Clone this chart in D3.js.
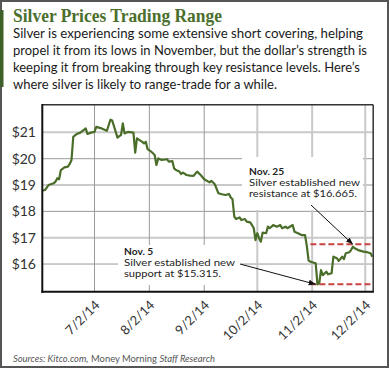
<!DOCTYPE html>
<html><head><meta charset="utf-8">
<script src="https://cdn.jsdelivr.net/npm/d3@7"></script>
<style>html,body{margin:0;padding:0;background:#fff;}svg{display:block;}</style>
</head><body>
<svg id="chart" width="390" height="369"></svg>
<script>
// ---- data ----
const dates = [
"2014-06-02","2014-06-04","2014-06-06","2014-06-09","2014-06-10","2014-06-11","2014-06-12","2014-06-13","2014-06-15","2014-06-17",
"2014-06-18","2014-06-19","2014-06-20","2014-06-22","2014-06-24","2014-06-26","2014-06-27","2014-06-28","2014-06-30",
"2014-07-02","2014-07-03","2014-07-06","2014-07-09","2014-07-11","2014-07-12","2014-07-15","2014-07-17","2014-07-18","2014-07-19",
"2014-07-21","2014-07-24","2014-07-25","2014-07-26","2014-07-29","2014-07-30","2014-07-31",
"2014-08-01","2014-08-03","2014-08-05","2014-08-06","2014-08-07","2014-08-09","2014-08-12","2014-08-13","2014-08-15","2014-08-16",
"2014-08-17","2014-08-19","2014-08-20","2014-08-21","2014-08-23","2014-08-25","2014-08-27","2014-08-29","2014-08-31",
"2014-09-02","2014-09-05","2014-09-06","2014-09-08","2014-09-10","2014-09-12","2014-09-14","2014-09-16","2014-09-17","2014-09-18",
"2014-09-19","2014-09-20","2014-09-22","2014-09-23","2014-09-25","2014-09-26","2014-09-28","2014-09-29","2014-09-30",
"2014-10-01","2014-10-02","2014-10-03","2014-10-04","2014-10-05","2014-10-07","2014-10-08","2014-10-09","2014-10-11","2014-10-13",
"2014-10-15","2014-10-16","2014-10-18","2014-10-19","2014-10-22","2014-10-23","2014-10-25","2014-10-27","2014-10-29","2014-10-30","2014-10-31",
"2014-11-01","2014-11-02","2014-11-04","2014-11-05","2014-11-06","2014-11-07","2014-11-08","2014-11-10","2014-11-11","2014-11-13",
"2014-11-14","2014-11-16","2014-11-17","2014-11-19","2014-11-20","2014-11-21","2014-11-23","2014-11-24","2014-11-25","2014-11-26","2014-11-28",
"2014-12-01","2014-12-03","2014-12-05","2014-12-06"
];
const prices = [
18.78,18.81,19.00,19.07,19.13,19.26,19.22,19.57,19.67,19.70,
19.80,19.95,20.83,20.94,20.99,21.09,21.15,20.94,20.99,
21.02,21.21,21.15,21.06,21.48,21.45,20.80,20.90,21.34,20.96,
21.02,20.99,20.23,20.77,20.64,20.58,20.64,
20.36,20.27,20.14,19.76,20.01,19.95,19.98,19.89,19.91,19.63,
19.57,19.51,19.42,19.47,19.38,19.36,19.35,19.51,19.38,
19.22,19.10,19.16,19.03,18.69,18.65,18.62,18.66,18.53,18.46,
17.80,17.71,17.77,17.67,17.71,17.61,17.58,17.48,17.36,
16.91,17.17,16.98,16.85,17.19,17.17,17.42,17.36,17.48,17.42,
17.48,17.36,17.42,17.36,17.48,17.23,17.17,17.10,17.10,16.68,16.13,
16.09,16.07,16.03,15.23,15.27,15.77,15.58,15.71,15.61,15.65,
16.28,16.22,16.12,16.28,16.19,16.41,16.45,16.53,16.66,16.60,16.53,
16.47,16.45,16.41,16.28
];
const xTickDates = ["2014-07-02","2014-08-02","2014-09-02","2014-10-02","2014-11-02","2014-12-02"];
const xTickLabels = ["7/2/14","8/2/14","9/2/14","10/2/14","11/2/14","12/2/14"];
const yTickValues = [16,17,18,19,20,21];
const yTickLabels = ["$16","$17","$18","$19","$20","$21"];
const rangeStart = "2014-11-01";
const resistanceLevel = 16.75;   // dashed line as drawn
const supportLevel = 15.23;      // dashed line as drawn
const resistanceDate = "2014-11-25";
const supportDate = "2014-11-04";

const titleText = "Silver Prices Trading Range";
const bodyLines = [
 "Silver is experiencing some extensive short covering, helping",
 "propel it from its lows in November, but the dollar\u2019s strength is",
 "keeping it from breaking through key resistance levels. Here\u2019s",
 "where silver is likely to range-trade for a while."
];
const note1 = ["Nov. 25","Silver established new","resistance at $16.665."];
const note2 = ["Nov. 5","Silver established new","support at $15.315."];
const sourceParts = ["Sources: Kitco.com,", "Money Morning", "Staff Research"];
const sourceItalic = [true, false, true];

// ---- setup ----
const parse = d3.utcParse("%Y-%m-%d");
const series = dates.map((d,i)=>({date:parse(d), value:prices[i]}));
const svg = d3.select("#chart");
const green = "#4a6e29";
const L=42.3, R=373.2, T=104.7, B=291.7;

const x = d3.scaleUtc().domain([Date.UTC(2014,5,2,12), Date.UTC(2014,11,6,12)]).range([L,R]);
const y = d3.scaleLinear().domain([14.95,22.05]).range([B,T]);

// outer border
svg.append("rect").attr("x",1).attr("y",1).attr("width",387).attr("height",366)
  .attr("fill","#fff").attr("stroke","#555").attr("stroke-width",2);
// left accent bar
svg.append("rect").attr("x",0).attr("y",10).attr("width",3.5).attr("height",77).attr("fill","#3f5f28");

// title & body
svg.append("text").attr("x",13).attr("y",22).text(titleText)
  .attr("font-family","Liberation Serif, serif").attr("font-weight","bold").attr("font-size",19)
  .attr("fill","#4b6f2c").attr("textLength",209).attr("lengthAdjust","spacingAndGlyphs");
const bodyWidths=[350,354,347,264];
bodyLines.forEach((t,i)=>{
  svg.append("text").attr("x",13).attr("y",38+i*17).text(t)
   .attr("font-family","Lato, sans-serif").attr("font-size",13.5).attr("fill","#1a1a1a")
   .attr("textLength",bodyWidths[i]).attr("lengthAdjust","spacingAndGlyphs");
});

// gridlines
const g = svg.append("g");
yTickValues.forEach((v,i)=>{
  const light = (i%2===1);
  g.append("line").attr("x1",L).attr("x2",R).attr("y1",y(v)).attr("y2",y(v))
   .attr("stroke", light?"#c9c9c9":"#9a9a9a").attr("stroke-width", light?2:1);
});
xTickDates.forEach((d,i)=>{
  const light = i>=3;
  const xx = x(parse(d));
  g.append("line").attr("x1",xx).attr("x2",xx).attr("y1",T).attr("y2",B)
   .attr("stroke", light?"#c9c9c9":"#9a9a9a").attr("stroke-width", light?2:1);
});

// annotation boxes (white, hide gridlines)
svg.append("rect").attr("x",242).attr("y",157).attr("width",121).attr("height",53).attr("fill","#fff");
svg.append("rect").attr("x",118).attr("y",245).attr("width",123).attr("height",40).attr("fill","#fff");

// range lines
[resistanceLevel, supportLevel].forEach(v=>{
  svg.append("line").attr("x1",x(parse(rangeStart))).attr("x2",R)
   .attr("y1",y(v)).attr("y2",y(v))
   .attr("stroke","#c9423f").attr("stroke-width",2).attr("stroke-dasharray","6,3");
});

// data line
svg.append("defs").append("clipPath").attr("id","clip").append("rect")
  .attr("x",L).attr("y",T).attr("width",R-L).attr("height",B-T);
svg.append("path").datum(series).attr("clip-path","url(#clip)")
  .attr("d", d3.line().x(d=>x(d.date)).y(d=>y(d.value)))
  .attr("fill","none").attr("stroke",green).attr("stroke-width",2.2).attr("stroke-linejoin","round");

// frame
svg.append("line").attr("x1",L).attr("x2",R).attr("y1",T).attr("y2",T).attr("stroke","#333").attr("stroke-width",1.5);
svg.append("line").attr("x1",R).attr("x2",R).attr("y1",T).attr("y2",B).attr("stroke","#333").attr("stroke-width",1.5);
svg.append("line").attr("x1",L).attr("x2",L).attr("y1",T-0.7).attr("y2",B+1).attr("stroke","#111").attr("stroke-width",2);
svg.append("line").attr("x1",L-1).attr("x2",R+0.7).attr("y1",B).attr("y2",B).attr("stroke","#111").attr("stroke-width",2);

// y labels
yTickValues.forEach((v,i)=>{
  svg.append("text").attr("x",36).attr("y",y(v)).attr("dy","0.36em").attr("text-anchor","end")
   .text(yTickLabels[i]).attr("font-family","Lato, sans-serif").attr("font-size",14).attr("fill","#333");
});
// x labels
xTickDates.forEach((d,i)=>{
  const xx = x(parse(d));
  svg.append("text").attr("transform",`translate(${xx+6},306) rotate(-45)`).attr("text-anchor","end")
   .text(xTickLabels[i]).attr("font-family","Lato, sans-serif").attr("font-size",13).attr("fill","#333");
});

// arrows
const defs = svg.select("defs");
defs.append("marker").attr("id","arr").attr("viewBox","0 0 10 10").attr("refX",10).attr("refY",5)
  .attr("markerWidth",7).attr("markerHeight",7).attr("markerUnits","userSpaceOnUse").attr("orient","auto")
  .append("path").attr("d","M0,1 L10,5 L0,9 Z").attr("fill","#111");
svg.append("line").attr("x1",311).attr("y1",205)
  .attr("x2",x(parse(resistanceDate))).attr("y2",y(resistanceLevel))
  .attr("stroke","#111").attr("stroke-width",1).attr("marker-end","url(#arr)");
svg.append("line").attr("x1",240).attr("y1",264)
  .attr("x2",x(parse(supportDate))).attr("y2",y(supportLevel))
  .attr("stroke","#111").attr("stroke-width",1).attr("marker-end","url(#arr)");

// annotation text
function note(lines, x0, y0, widths){
  lines.forEach((t,i)=>{
    const tx = svg.append("text").attr("x",x0).attr("y",y0+i*11).text(t)
     .attr("font-family","Lato, sans-serif").attr("font-size",10.2).attr("fill","#222")
     .attr("font-weight", i===0?"bold":"normal");
    if(widths[i]) tx.attr("textLength",widths[i]).attr("lengthAdjust","spacingAndGlyphs");
  });
}
note(note1, 249, 175, [null,111,108]);
note(note2, 124, 255, [null,111,97]);

// source (separate pieces laid out side by side)
let sx = 13;
sourceParts.forEach((t,i)=>{
  const el = svg.append("text").attr("x",sx).attr("y",362).text(t)
    .attr("font-family","Lato, sans-serif").attr("font-size",9.4).attr("fill","#555")
    .attr("font-style", sourceItalic[i]?"italic":"normal");
  sx += el.node().getComputedTextLength() + 2.6;
});
</script>
</body></html>
